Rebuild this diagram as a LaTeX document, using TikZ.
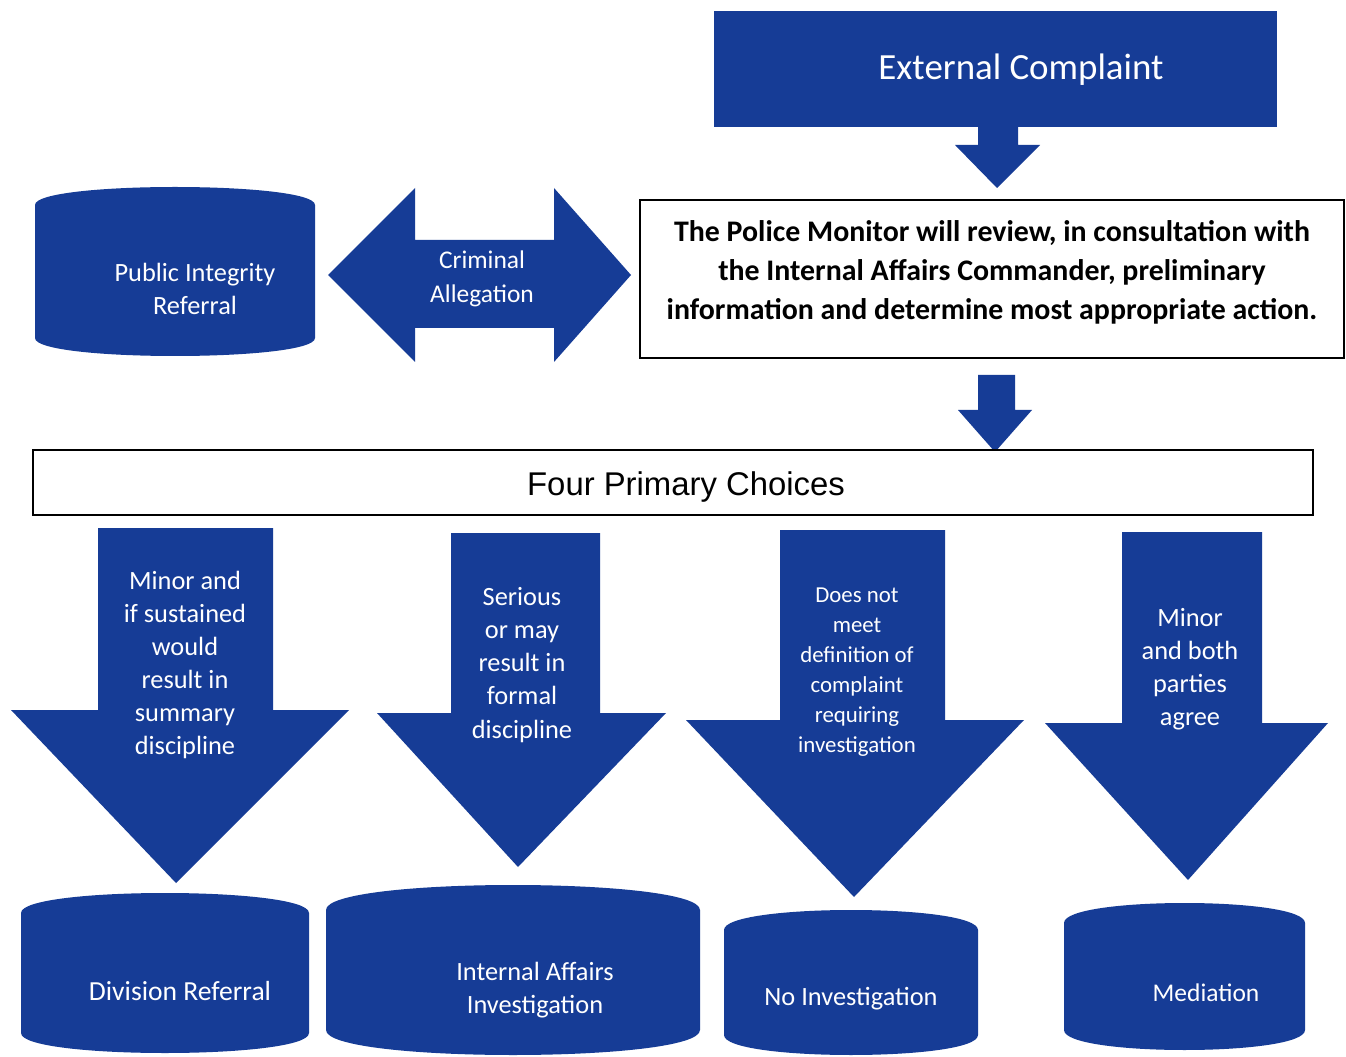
\documentclass[tikz,border=0pt]{standalone}
\usepackage{fontspec}
\setmainfont{Carlito}
\newfontfamily\arialf{Liberation Sans}
\definecolor{bblue}{RGB}{22,60,150}
\newcommand\blockdown[8]{\fill[bblue] (#1,#3) -- (#2,#3) -- (#2,#6) -- (#5,#6) -- (#7,#8) -- (#4,#6) -- (#1,#6) -- cycle;}
\newcommand\mybarrel[5]{\fill[bblue] ({#1},{#2+#5}) .. controls ({#1},{#2-#5/3}) and ({#3},{#2-#5/3}) .. ({#3},{#2+#5}) -- ({#3},{#4-#5}) .. controls ({#3},{#4+#5/3}) and ({#1},{#4+#5/3}) .. ({#1},{#4-#5}) -- cycle;}
\tikzset{
  wtxt/.style={text=white, align=center, inner sep=0pt},
  arrtxt/.style={wtxt, font=\fontsize{15}{18.8}\selectfont},
  cyltxt/.style={wtxt, font=\fontsize{15}{19}\selectfont},
  whitebox/.style={draw=black, line width=0.9pt, fill=white}
}
\begin{document}
\begin{tikzpicture}[x=0.02cm,y=-0.02cm]
\useasboundingbox[fill=white] (0,0) rectangle (1346,1057);
% External complaint
\fill[bblue] (714,11) rectangle (1277,127);
\node[wtxt, font=\fontsize{21}{24}\selectfont] (ext) at (1021,70) {External Complaint};
\blockdown{978}{1018}{126}{955}{1040}{145}{997}{188}
% Police monitor
\draw[whitebox] (640,200) rectangle (1344,358);
\node[align=center, inner sep=0pt, font=\bfseries\fontsize{17}{22.2}\selectfont] (pm) at (992,272) {The Police Monitor will review, in consultation with\\ the Internal Affairs Commander, preliminary\\ information and determine most appropriate action.};
\blockdown{978}{1015}{375}{958}{1032}{410}{995}{452}
% Public integrity
\mybarrel{35}{187}{315}{356}{18}
\node[cyltxt] (pir) at (195,289) {Public Integrity\\ Referral};
% Double arrow
\fill[bblue] (328,275) -- (415,188) -- (415,240) -- (554,240) -- (554,188) -- (631,275) -- (554,362) -- (554,328) -- (415,328) -- (415,362) -- cycle;
\node[cyltxt, font=\fontsize{14.5}{19}\selectfont] (crim) at (482,279) {Criminal\\ Allegation};
% Four primary choices
\draw[whitebox] (33,450) rectangle (1313,515);
\node[font=\arialf\fontsize{18.7}{21}\selectfont, inner sep=0pt] (four) at (686,487) {Four Primary Choices};
% Down arrows
\blockdown{98}{273}{528}{11}{349}{710}{176}{883}
\node[arrtxt] (a1) at (185,665) {Minor and\\ if sustained\\ would\\ result in\\ summary\\ discipline};
\blockdown{451}{600}{533}{377}{666}{713}{518}{867}
\node[arrtxt] (a2) at (522,665) {Serious\\ or may\\ result in\\ formal\\ discipline};
\blockdown{780}{945}{530}{686}{1024}{720}{854}{897}
\node[arrtxt, font=\fontsize{13}{17}\selectfont] (a3) at (857,672) {Does not\\ meet\\ definition of\\ complaint\\ requiring\\ investigation};
\blockdown{1122}{1262}{532}{1045}{1328}{723}{1188}{880}
\node[arrtxt] (a4) at (1190,669) {Minor\\ and both\\ parties\\ agree};
% Bottom barrels
\mybarrel{21}{893}{309}{1053}{20}
\node[cyltxt, font=\fontsize{15.7}{19}\selectfont] (div) at (180,991) {Division Referral};
\mybarrel{326}{885}{700}{1055}{25}
\node[cyltxt] (ia) at (535,990) {Internal Affairs\\ Investigation};
\mybarrel{724}{910}{978}{1055}{20}
\node[cyltxt] (noinv) at (851,999) {No Investigation};
\mybarrel{1064}{903}{1305}{1050}{20}
\node[cyltxt, font=\fontsize{14.5}{19}\selectfont] (med) at (1206,993) {Mediation};
\end{tikzpicture}
\end{document}
